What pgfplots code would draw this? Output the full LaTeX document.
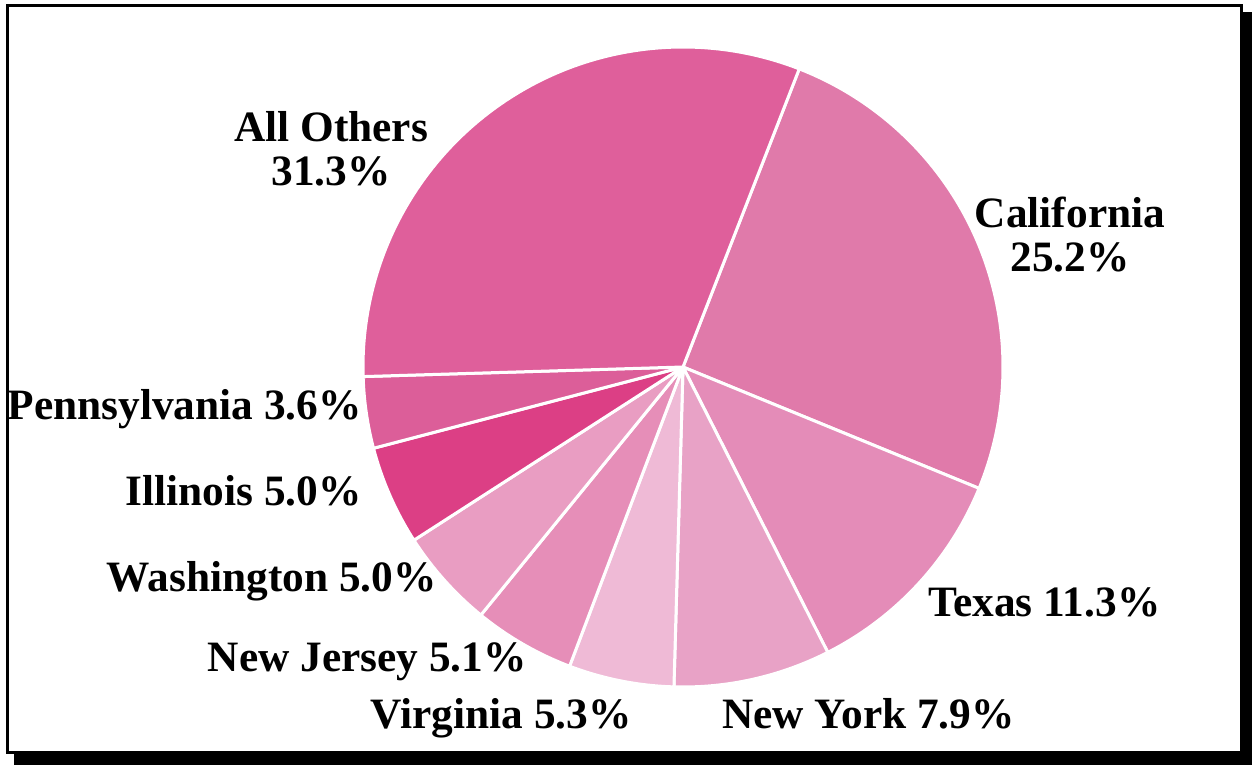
\documentclass[border=0pt]{standalone}
\usepackage{pgfplots}
\usepackage{pgfplotstable}
\usepackage{fontspec}
\setmainfont{Liberation Serif}
\pgfplotsset{compat=1.18}

\definecolor{cCal}{HTML}{E07AAA}
\definecolor{cTex}{HTML}{E48CB8}
\definecolor{cNY}{HTML}{E8A2C6}
\definecolor{cVa}{HTML}{EFBAD6}
\definecolor{cNJ}{HTML}{E68EB8}
\definecolor{cWa}{HTML}{E99DC2}
\definecolor{cIl}{HTML}{DC3F85}
\definecolor{cPa}{HTML}{DC5E99}
\definecolor{cOth}{HTML}{DF5F9B}

% share of each state, clockwise from the top
\pgfplotstableread[col sep=comma]{
state,value,col
California,25.2,cCal
Texas,11.3,cTex
New York,7.9,cNY
Virginia,5.3,cVa
New Jersey,5.1,cNJ
Washington,5.0,cWa
Illinois,5.0,cIl
Pennsylvania,3.6,cPa
All Others,31.3,cOth
}\pietable

\begin{document}
\begin{tikzpicture}
\begin{axis}[
  x=0.6pt, y=0.6pt,
  xmin=0, xmax=1252, ymin=0, ymax=765,
  hide axis, clip=false,
]
\path (axis cs:0,0) rectangle (axis cs:1252,765);
% frame with shadow
\fill[black] (axis cs:14,0) rectangle (axis cs:1252,753);
\draw[black, fill=white, line width=1.8pt] (axis cs:7,759) rectangle (axis cs:1241,13);

\def\aStart{68.7}
\pgfplotsforeachungrouped \i in {0,...,8}{%
  \pgfplotstablegetelem{\i}{value}\of\pietable \let\v=\pgfplotsretval
  \pgfplotstablegetelem{\i}{col}\of\pietable \let\c=\pgfplotsretval
  \pgfmathsetmacro\aEnd{\aStart - \v/99.7*360}%
  \edef\temp{\noexpand\fill[\c, draw=white, line width=1.8pt, line join=round]
    (axis cs:683,398) -- ++(\aStart:192pt)
    arc[start angle=\aStart, end angle=\aEnd, radius=192pt] -- cycle;}%
  \temp
  \global\let\aStart\aEnd
}

\begin{scope}[font=\fontsize{26}{26.4}\selectfont\bfseries, inner sep=0pt]
\node[align=center] at (axis cs:331,616) {All Others\\31.3\%};
\node[align=center] at (axis cs:1070,530) {California\\25.2\%};
\node[anchor=base east] at (axis cs:362,346) {Pennsylvania 3.6\%};
\node[anchor=base east] at (axis cs:362,260) {Illinois 5.0\%};
\node[anchor=base east] at (axis cs:437,174) {Washington 5.0\%};
\node[anchor=base east] at (axis cs:527,94) {New Jersey 5.1\%};
\node[anchor=base east] at (axis cs:632,37) {Virginia 5.3\%};
\node[anchor=base west] at (axis cs:722,37) {New York 7.9\%};
\node[anchor=base west] at (axis cs:928,149) {Texas 11.3\%};
\end{scope}
\end{axis}
\end{tikzpicture}
\end{document}
